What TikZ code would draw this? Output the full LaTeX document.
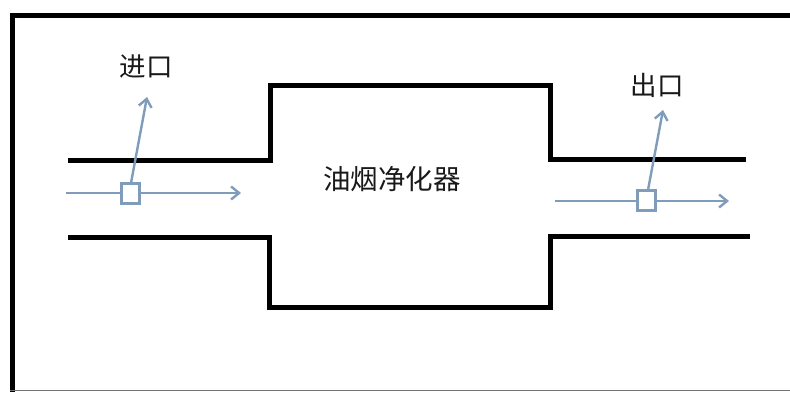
\documentclass[tikz,border=0pt]{standalone}
\usepackage{fontspec}
\newfontfamily\cjk{Noto Sans CJK SC}
\usetikzlibrary{arrows.meta}
\definecolor{flow}{HTML}{7F9DBB}
\tikzset{
  x=1pt,y=-1pt,
  wall/.style={draw=black,line width=5pt,line cap=butt,line join=miter},
  frameline/.style={draw=black,line width=5pt},
  flowline/.style={draw=flow,line width=2.4pt,-{Straight Barb[length=8pt,width=13pt,line width=2.4pt]}},
  probe/.style={draw=flow,line width=3pt,fill=white,minimum width=18pt,minimum height=20pt,inner sep=0pt,outer sep=0pt},
  label/.style={font=\cjk\fontsize{26.5}{27}\selectfont,text=black!90,inner sep=0pt},
  mainlabel/.style={font=\cjk\fontsize{27.5}{28}\selectfont,text=black!90,inner sep=0pt}
}
\begin{document}
\begin{tikzpicture}
\useasboundingbox (0,0) rectangle (790,392);
\fill[white] (0,0) rectangle (790,392);
% frame
\coordinate (fa) at (790,15);
\coordinate (fb) at (12,15);
\coordinate (fc) at (12,392);
\draw[frameline] (fa) -- (fb) -- (fc);
\coordinate (fd) at (10,390.5);
\coordinate (fe) at (790,390.5);
\draw[draw=black!55,line width=1pt] (fd) -- (fe);
% pipe walls
\coordinate (ua) at (68,160.5);
\coordinate (ub) at (270.5,160.5);
\coordinate (uc) at (270.5,85.5);
\coordinate (ud) at (550,85.5);
\coordinate (ue) at (550,159.5);
\coordinate (uf) at (746,159.5);
\draw[wall] (ua) -- (ub) -- (uc) -- (ud) -- (ue) -- (uf);
\coordinate (la) at (68,237);
\coordinate (lb) at (269.5,237);
\coordinate (lc) at (269.5,307);
\coordinate (ld) at (550,307);
\coordinate (le) at (550,236);
\coordinate (lf) at (750,236);
\draw[wall] (la) -- (lb) -- (lc) -- (ld) -- (le) -- (lf);
% inlet
\coordinate (ia) at (66,193);
\coordinate (ib) at (241,193);
\coordinate (is) at (131,183);
\coordinate (it) at (147,97);
\draw[flowline] (ia) -- (ib);
\draw[flowline] (is) -- (it);
\node[probe] (ip) at (130,193) {};
% outlet
\coordinate (oa) at (555,201);
\coordinate (ob) at (729,201);
\coordinate (os) at (648,190);
\coordinate (ot) at (663,110);
\draw[flowline] (oa) -- (ob);
\draw[flowline] (os) -- (ot);
\node[probe] (op) at (646.5,200) {};
% labels
\node[label] (inl) at (146,67) {\cjk 进口};
\node[label] (outl) at (657,85) {\cjk 出口};
\node[mainlabel] (main) at (392,179) {\cjk 油烟净化器};
\end{tikzpicture}
\end{document}
